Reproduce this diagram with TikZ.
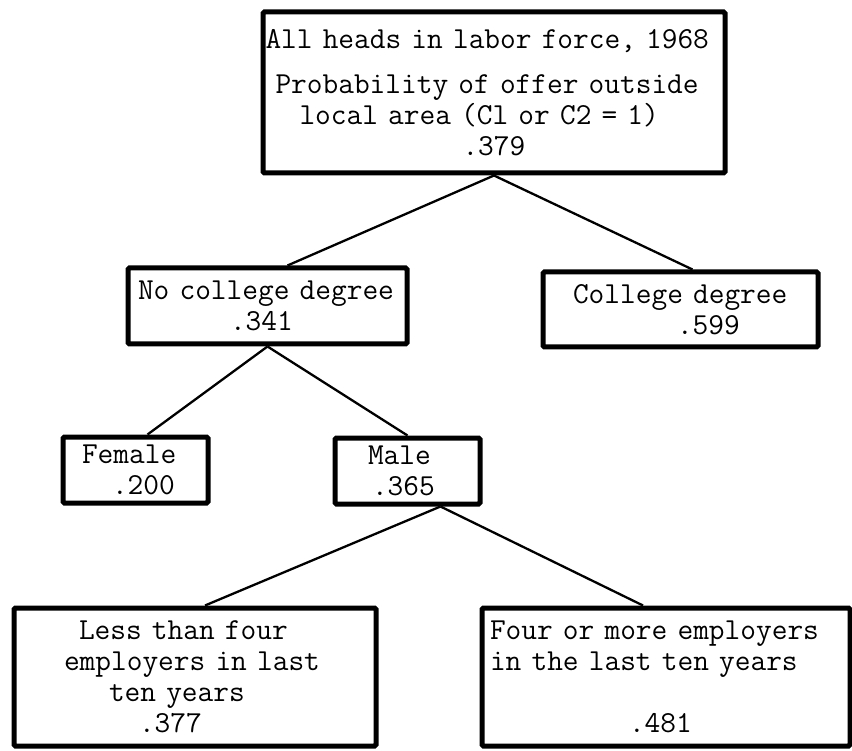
\documentclass[tikz,border=0pt]{standalone}
\usepackage{tikz}
\tikzstyle{box}  = [draw, line width=5pt, rounded corners=1.5pt, inner ysep=0pt, align=left,
                    font=\ttfamily\fontsize{30.5}{31}\selectfont]
\tikzstyle{link} = [line width=2.3pt]

\begin{document}
\begin{tikzpicture}[x=1pt,y=-1pt]
          \useasboundingbox (0,0) rectangle (852,751);
          \node[box, minimum width=462pt, minimum height=161pt, inner xsep=2.5pt, text width=457pt](top)at(494, 92.5)
               {All heads in labor force, 1968\\[14pt]
                \hspace*{10pt}Probability of offer outside\\
                \hspace*{34pt}local area (Cl or C2 = 1)\\
                \hspace*{197pt}.379};
          \node[box, minimum width=279pt, minimum height=76pt, inner xsep=10pt, text width=259pt](ncd)at(267.5, 306)
               {No college degree\\ \hspace*{92pt}.341};
          \node[box, minimum width=275pt, minimum height=75pt, inner xsep=30pt, text width=215pt](cd)at(680.5, 309.5)
               {College degree\\ \hspace*{104pt}.599};
          \node[box, minimum width=145pt, minimum height=66pt, inner xsep=19pt, text width=107pt](fem)at(135.5, 470)
               {Female\\ \hspace*{30pt}.200};
          \node[box, minimum width=145pt, minimum height=66pt, inner xsep=33pt, text width=79pt](male)at(407.5, 471)
               {Male\\ \hspace*{4pt}.365};
          \node[box, minimum width=362pt, minimum height=138pt, inner xsep=50pt, text width=262pt](less)at(195, 677)
               {\hspace*{15pt}Less than four\\
                employers in last\\
                \hspace*{45pt}ten years\\
                \hspace*{75pt}.377};
          \node[box, minimum width=368pt, minimum height=138pt, inner xsep=8pt, text width=352pt](four)at(666, 677)
               {Four or more employers\\
                in the last ten years\\[31pt]
                \hspace*{139pt}.481};
          \draw[link](top.south)--([xshift=20pt]ncd.north);
          \draw[link](top.south)--([xshift=12pt]cd.north);
          \draw[link](ncd.south)--([xshift=12pt]fem.north);
          \draw[link](ncd.south)--(male.north);
          \draw[link]([xshift=33pt]male.south)--([xshift=10pt]less.north);
          \draw[link]([xshift=33pt]male.south)--([xshift=-23pt]four.north);
      \end{tikzpicture}
\end{document}
